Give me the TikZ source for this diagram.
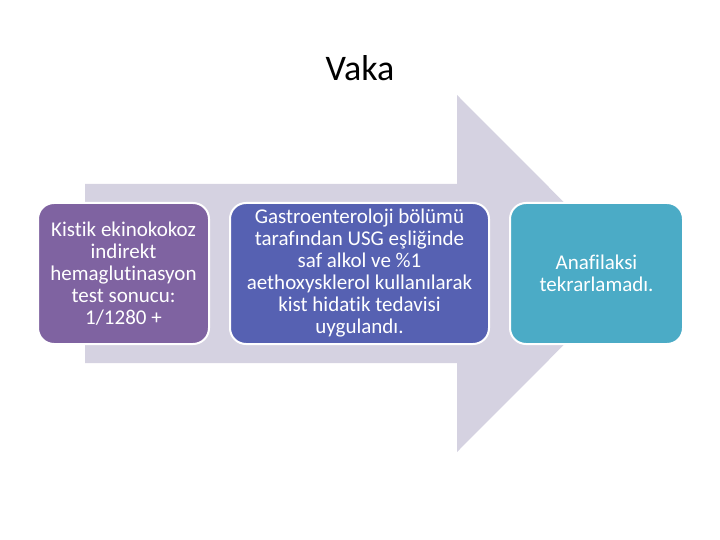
\documentclass[tikz,border=0pt]{standalone}
\usepackage{fontspec}
\setmainfont{Carlito}[Ligatures=NoCommon]
\usetikzlibrary{positioning}
\definecolor{bandcolor}{HTML}{D5D2E1}
\definecolor{c1}{HTML}{7F63A1}
\definecolor{c2}{HTML}{5661B2}
\definecolor{c3}{HTML}{4BABC6}

\begin{document}
\begin{tikzpicture}[
    x=1pt, y=-1pt,
    every node/.style={font=\fontsize{21}{22}\selectfont},
    card/.style={draw=white, line width=2pt, rounded corners=16pt, outer sep=0pt,
                 inner sep=0pt, minimum height=141pt, align=center, text=white},
]
\useasboundingbox (0,0) rectangle (720,540);

\node[font=\fontsize{36}{42}\selectfont] (title) at (360,68) {Vaka};

% the wide arrow behind the cards
\fill[bandcolor] (85,184) -- (457,184) -- (457,95) -- (635,273.5)
    -- (457,452) -- (457,363) -- (85,363) -- cycle;

% the three steps
\node[card, fill=c1, minimum width=171pt] (test) at (123.5,273.5)
    {Kistik ekinokokoz\\indirekt\\hemaglutinasyon\\test sonucu:\\1/1280 +};
\node[card, fill=c2, minimum width=259pt, right=21pt of test] (treat)
    {Gastroenteroloji bölümü\\tarafından USG eşliğinde\\saf alkol ve \%1\\aethoxysklerol kullanılarak\\kist hidatik tedavisi\\uygulandı.};
\node[card, fill=c3, minimum width=173pt, right=21pt of treat] (result)
    {Anafilaksi\\tekrarlamadı.};
\end{tikzpicture}
\end{document}
